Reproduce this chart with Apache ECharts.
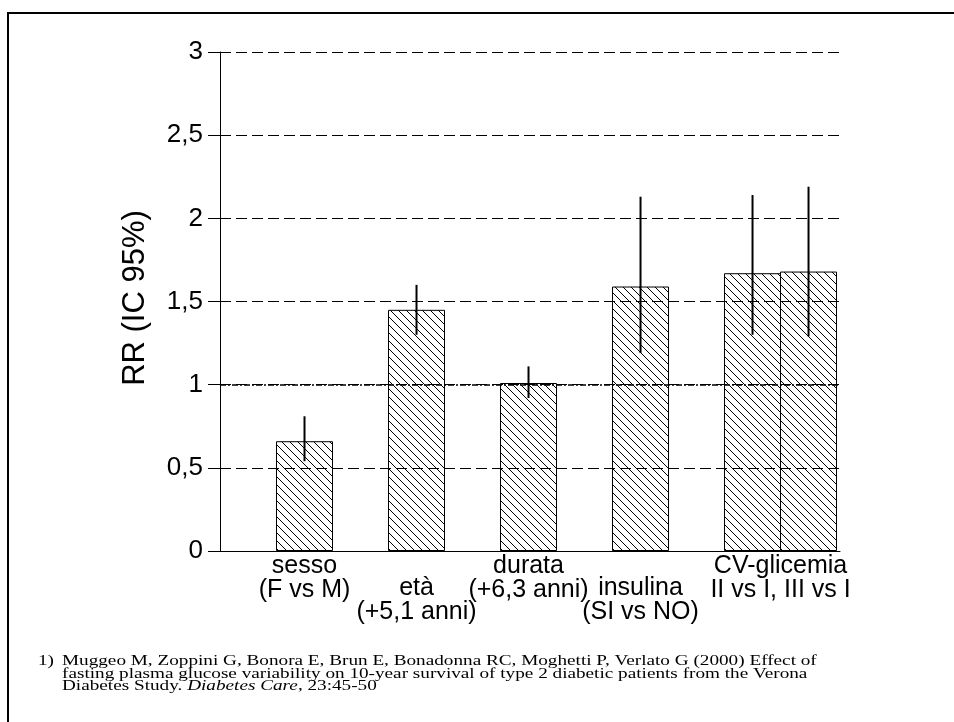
<!DOCTYPE html>
<html>
<head>
<meta charset="utf-8">
<script src="https://cdn.jsdelivr.net/npm/echarts@6/dist/echarts.min.js"></script>
<style>
    html, body { margin: 0; padding: 0; background: #fff; }
    #chart { width: 954px; height: 722px; }
</style>
</head>
<body>
<div id="chart"></div>
<script>
// bar positions on the x scale (CV-glicemia has two adjacent bars)
var positions = [1, 2, 3, 4, 5, 5.5];
var rrValues = [0.66, 1.45, 1.01, 1.59, 1.67, 1.68];
var ciLow = [0.54, 1.30, 0.92, 1.19, 1.30, 1.29];
var ciHigh = [0.81, 1.60, 1.11, 2.13, 2.14, 2.19];

var labelPositions = [1, 2, 3, 4, 5.25];
var labelTexts = ['sesso\n(F vs M)', 'età\n(+5,1 anni)', 'durata\n(+6,3 anni)', 'insulina\n(SI vs NO)', 'CV-glicemia\nII vs I, III vs I'];
var labelRows = [0, 1, 0, 1, 0];

var yTickLabels = ['0', '0,5', '1', '1,5', '2', '2,5', '3'];

var footnote = [
    'Muggeo M, Zoppini G, Bonora E, Brun E, Bonadonna RC, Moghetti P, Verlato G (2000) Effect of',
    'fasting plasma glucose variability on 10-year survival of type 2 diabetic patients from the Verona',
    'Diabetes Study. {i|Diabetes Care}, 23:45-50'
];

function hatchPattern() {
    var c = document.createElement('canvas');
    c.width = 8;
    c.height = 8;
    var g = c.getContext('2d');
    g.fillStyle = '#fff';
    g.fillRect(0, 0, 8, 8);
    g.strokeStyle = '#000';
    g.lineWidth = 1;
    g.beginPath();
    g.moveTo(-1, -1); g.lineTo(9, 9);
    g.moveTo(-1, 7); g.lineTo(1, 9);
    g.moveTo(7, -1); g.lineTo(9, 1);
    g.stroke();
    return c;
}

var chart = echarts.init(document.getElementById('chart'));

var fontSans = 'Liberation Sans, Arial, sans-serif';
var fontSerif = 'Liberation Serif, Times New Roman, serif';

var graphics = [
    {
        type: 'rect',
        shape: { x: 8, y: 13, width: 1000, height: 800 },
        style: { fill: 'none', stroke: '#000', lineWidth: 2 },
        silent: true
    },
    {
        type: 'text',
        x: 135,
        y: 298,
        rotation: Math.PI / 2,
        style: {
            text: 'RR (IC 95%)',
            font: '31px ' + fontSans,
            fill: '#000',
            textAlign: 'center',
            textVerticalAlign: 'middle'
        }
    },
    {
        type: 'text',
        x: 38,
        y: 661,
        scaleX: 1.28,
        style: {
            text: '1)',
            font: '15px ' + fontSerif,
            fill: '#000',
            textVerticalAlign: 'middle'
        }
    }
];
footnote.forEach(function (line, i) {
    graphics.push({
        type: 'text',
        x: 62,
        y: 661 + i * 12.7,
        scaleX: 1.28,
        style: {
            text: line,
            font: '15px ' + fontSerif,
            fill: '#000',
            textVerticalAlign: 'middle',
            rich: {
                i: { fontStyle: 'italic', fontSize: 15, fontFamily: fontSerif }
            }
        }
    });
});

var option = {
    backgroundColor: '#fff',
    animation: false,
    grid: { left: 220, right: 114, top: 52, bottom: 171 },
    xAxis: {
        type: 'value',
        min: 0.2455,
        max: 5.781,
        axisLine: { show: true, onZero: false, lineStyle: { color: '#000', width: 1 } },
        axisTick: { show: false },
        axisLabel: { show: false },
        splitLine: { show: false }
    },
    yAxis: {
        type: 'value',
        min: 0,
        max: 3,
        interval: 0.5,
        axisLine: { show: true, lineStyle: { color: '#000', width: 1 } },
        axisTick: { show: true, length: 12, lineStyle: { color: '#000', width: 1 } },
        axisLabel: {
            margin: 17,
            fontSize: 26,
            fontFamily: fontSans,
            color: '#000',
            formatter: function (v) {
                return yTickLabels[Math.round(v / 0.5)];
            }
        },
        splitLine: { show: true, lineStyle: { color: '#000', width: 1, type: [11, 5] } },
        z: 3
    },
    graphic: graphics,
    series: [
        {
            type: 'bar',
            barWidth: 57,
            z: -1,
            data: positions.map(function (p, i) { return [p, rrValues[i]]; }),
            itemStyle: {
                color: { image: hatchPattern(), repeat: 'repeat' },
                borderColor: '#000',
                borderWidth: 1
            },
            markLine: {
                silent: true,
                symbol: 'none',
                label: { show: false },
                lineStyle: { color: '#000', width: 1.5, type: [6, 2, 2, 2] },
                data: [{ yAxis: 1 }],
                z: 4
            }
        },
        {
            type: 'custom',
            z: 5,
            encode: { x: 0, y: [1, 2] },
            data: positions.map(function (p, i) { return [p, ciLow[i], ciHigh[i]]; }),
            renderItem: function (params, api) {
                var lo = api.coord([api.value(0), api.value(1)]);
                var hi = api.coord([api.value(0), api.value(2)]);
                return {
                    type: 'line',
                    shape: { x1: lo[0], y1: lo[1], x2: hi[0], y2: hi[1] },
                    style: { stroke: '#000', lineWidth: 2 }
                };
            }
        },
        {
            type: 'scatter',
            symbolSize: 0,
            silent: true,
            itemStyle: { opacity: 1 },
            data: labelPositions.map(function (p, i) {
                return { value: [p, 0], label: { offset: [0, labelRows[i] * 22] } };
            }),
            label: {
                show: true,
                position: 'bottom',
                distance: 3,
                fontSize: 25,
                lineHeight: 24,
                fontFamily: fontSans,
                color: '#000',
                opacity: 1,
                align: 'center',
                formatter: function (p) {
                    return labelTexts[p.dataIndex];
                }
            }
        }
    ]
};

chart.setOption(option);
</script>
</body>
</html>
